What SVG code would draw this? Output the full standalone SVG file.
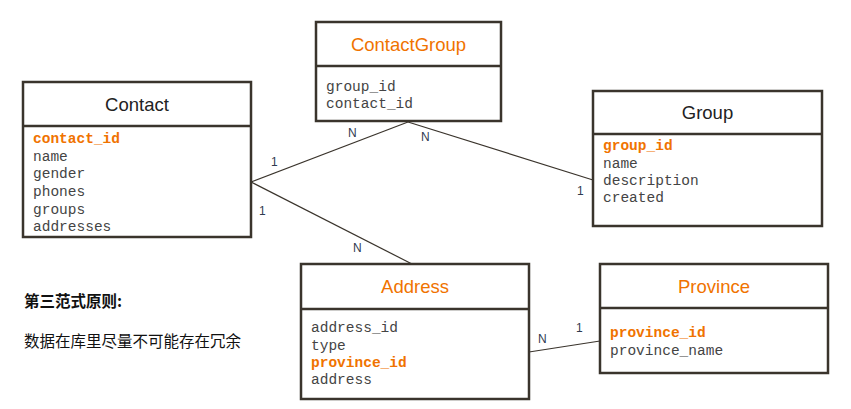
<svg xmlns="http://www.w3.org/2000/svg" width="851" height="409" viewBox="0 0 851 409">
<style>
.box{fill:#fff;stroke:#3a342c;stroke-width:2.5}
.div{stroke:#3a342c;stroke-width:2.5}
.title{font-family:"Liberation Sans",Arial,sans-serif;font-size:18.5px;text-anchor:middle;fill:#222}
.ot{fill:#f07300}
.f{font-family:"Liberation Mono","Courier New",monospace;font-size:14.5px;fill:#444}
.k{fill:#f07300;font-weight:bold}
.c{stroke:#3a342c;stroke-width:1.2;fill:none}
.lbl{font-family:"Liberation Sans",Arial,sans-serif;font-size:12px;fill:#2f3a4f}
.cn{font-family:"Noto Sans CJK SC",sans-serif;font-size:15.5px;fill:#111}
</style>
<g id="connectors">
<line class="c" x1="251" y1="182" x2="408" y2="122"/>
<line class="c" x1="251" y1="182" x2="412" y2="264"/>
<line class="c" x1="408" y1="122" x2="593" y2="180"/>
<line class="c" x1="529" y1="352" x2="600" y2="341"/>
<text class="lbl" x="271" y="166">1</text>
<text class="lbl" x="259" y="215">1</text>
<text class="lbl" x="348" y="137">N</text>
<text class="lbl" x="421" y="141">N</text>
<text class="lbl" x="353" y="252">N</text>
<text class="lbl" x="577" y="195">1</text>
<text class="lbl" x="538" y="343">N</text>
<text class="lbl" x="576" y="332">1</text>
</g>
<g id="Contact">
<rect class="box" x="23" y="82" width="228" height="155"/>
<line class="div" x1="23" y1="126" x2="251" y2="126"/>
<text class="title" x="137" y="111">Contact</text>
<text class="f" x="33"><tspan class="k" x="33" y="143">contact_id</tspan><tspan x="33" y="160.5">name</tspan><tspan x="33" y="178">gender</tspan><tspan x="33" y="195.5">phones</tspan><tspan x="33" y="214">groups</tspan><tspan x="33" y="231">addresses</tspan></text>
</g>
<g id="ContactGroup">
<rect class="box" x="316" y="22" width="185" height="99"/>
<line class="div" x1="316" y1="66" x2="501" y2="66"/>
<text class="title ot" x="408.5" y="51">ContactGroup</text>
<text class="f"><tspan x="326" y="91">group_id</tspan><tspan x="326" y="108">contact_id</tspan></text>
</g>
<g id="Group">
<rect class="box" x="593" y="91" width="229" height="135"/>
<line class="div" x1="593" y1="134" x2="822" y2="134"/>
<text class="title" x="707.5" y="119">Group</text>
<text class="f"><tspan class="k" x="603" y="150">group_id</tspan><tspan x="603" y="167.5">name</tspan><tspan x="603" y="185">description</tspan><tspan x="603" y="202">created</tspan></text>
</g>
<g id="Address">
<rect class="box" x="301" y="264" width="228" height="135"/>
<line class="div" x1="301" y1="309" x2="529" y2="309"/>
<text class="title ot" x="415" y="293">Address</text>
<text class="f"><tspan x="311" y="332">address_id</tspan><tspan x="311" y="349.5">type</tspan><tspan class="k" x="311" y="367">province_id</tspan><tspan x="311" y="384">address</tspan></text>
</g>
<g id="Province">
<rect class="box" x="600" y="264" width="228" height="109"/>
<line class="div" x1="600" y1="308" x2="828" y2="308"/>
<text class="title ot" x="714" y="293">Province</text>
<text class="f"><tspan class="k" x="610" y="337">province_id</tspan><tspan x="610" y="355">province_name</tspan></text>
</g>
<g id="note">
<text class="cn" x="24" y="307" font-weight="bold">第三范式原则:</text>
<text class="cn" x="24" y="347">数据在库里尽量不可能存在冗余</text>
</g>
</svg>
